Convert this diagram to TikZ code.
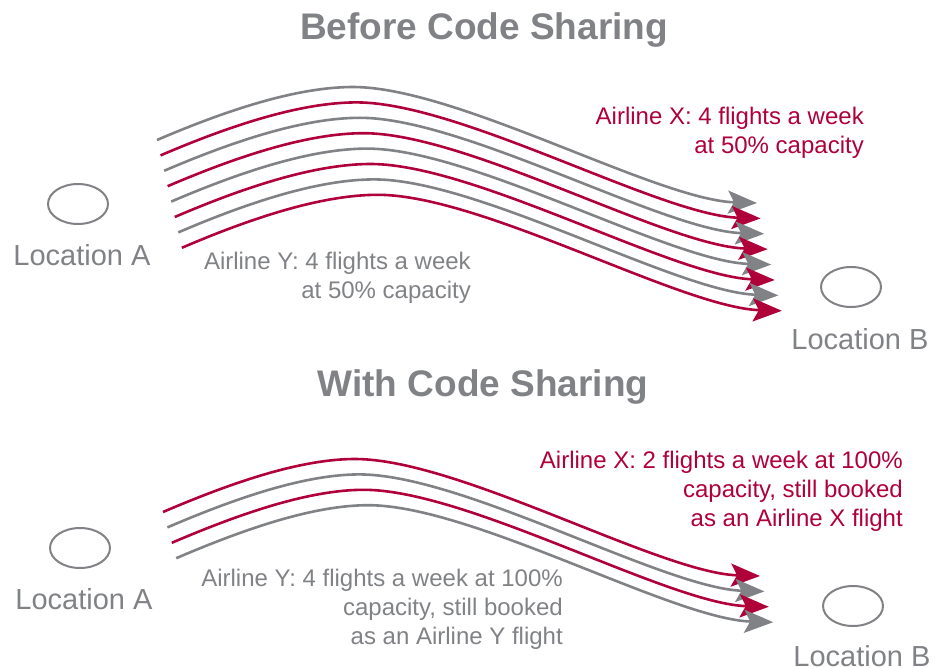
\documentclass[tikz,border=0pt]{standalone}
\usepackage{fontspec}
\setmainfont{Liberation Sans}
\usetikzlibrary{arrows.meta,shapes.geometric}
\definecolor{cgray}{RGB}{128,130,133}
\definecolor{cred}{RGB}{176,0,58}
\tikzset{
  flight/.style={line width=2.6pt, -{Stealth[length=29pt,width=23pt,inset=6pt]}},
  loc/.style={draw=cgray, line width=2pt, ellipse, minimum width=60pt, minimum height=40pt, inner sep=0pt},
  loclabel/.style={text=cgray, font=\fontsize{29}{31}\selectfont, inner sep=0pt},
  title/.style={text=cgray, font=\fontsize{37}{40}\selectfont\bfseries, inner sep=0pt},
  note/.style={font=\fontsize{24}{29}\selectfont, inner sep=0pt, align=right},
}
\begin{document}
\begin{tikzpicture}[x=1pt,y=-1pt]
\useasboundingbox (0,0) rectangle (944,668);
% titles
\node[title] (t1) at (484,30) {Before Code Sharing};
\node[title] (t2) at (483,387) {With Code Sharing};
% locations
\node[loc] (a1) at (78,204) {};
\node[loc] (b1) at (851,287) {};
\node[loc] (a2) at (80,548) {};
\node[loc] (b2) at (853,606) {};
\node[loclabel] (la1) at (82,255) {Location A};
\node[loclabel] (lb1) at (860,339) {Location B};
\node[loclabel] (la2) at (84,599) {Location A};
\node[loclabel] (lb2) at (862,656) {Location B};
% top group
\foreach \i/\c in {0/cgray,1/cred,2/cgray,3/cred,4/cgray,5/cred,6/cgray,7/cred}{
  \coordinate (s\i) at (157+3.55*\i,140+15.4*\i);
  \draw[flight, draw=\c, shift={(s\i)}]
    (0,0) .. controls (70,-30) and (140,-53) .. (196,-53)
          .. controls (300,-53) and (500,60) .. (600,63);
}
% bottom group
\foreach \i/\c in {0/cred,1/cgray,2/cred,3/cgray}{
  \coordinate (u\i) at (163+4.4*\i,512+15.4*\i);
  \draw[flight, draw=\c, shift={(u\i)}]
    (0,0) .. controls (70,-30) and (138,-53) .. (192,-53)
          .. controls (296,-53) and (497,61) .. (597,64);
}
% notes
\node[note, text=cred, anchor=north east] (nx1) at (864,107) {Airline X: 4 flights a week\\at 50\% capacity};
\node[note, text=cgray, anchor=north east] (ny1) at (471,252) {Airline Y: 4 flights a week\\at 50\% capacity};
\node[note, text=cred, anchor=north east] (nx2) at (903,451) {Airline X: 2 flights a week at 100\%\\capacity, still booked\\as an Airline X flight};
\node[note, text=cgray, anchor=north east] (ny2) at (563,569) {Airline Y: 4 flights a week at 100\%\\capacity, still booked\\as an Airline Y flight};
\end{tikzpicture}
\end{document}
